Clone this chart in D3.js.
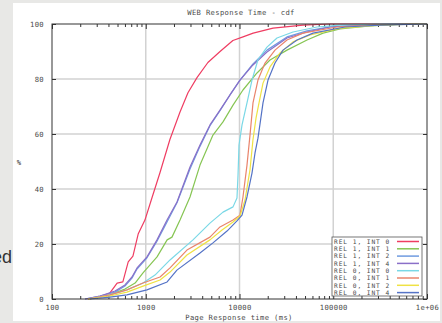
<!DOCTYPE html>
<html>
<head>
<meta charset="utf-8">
<script src="https://cdn.jsdelivr.net/npm/d3@7"></script>
<style>
  html, body { margin: 0; padding: 0; background: #e8e8e6; }
  svg { display: block; }
</style>
</head>
<body>
<div id="chart"></div>
<script>
// response time (ms) vs cumulative percent
const rel1Int0 = [[240,0],[325,0.7],[415,2.2],[495,5.8],[570,6.2],[650,13.5],[730,15.6],[830,23.6],[980,28.7],[1170,37],[1420,46],[1810,58],[2320,68],[2820,75],[3520,80.5],[4600,86],[6200,90],[8500,94],[10900,95.3],[14000,96.7],[22800,98.5],[47500,99.6],[92000,100],[1000000,100]];
const rel1Int1 = [[254,0],[415,1.5],[600,3.6],[770,5.8],[935,9.5],[1320,15.3],[1690,21.5],[1905,22.5],[2320,28.7],[2965,37.1],[3790,48.7],[5210,59.6],[6670,64.4],[8530,70.5],[10890,76],[15370,82.2],[21150,86.9],[32100,90.5],[52500,94.2],[77800,96.7],[118000,98.2],[246600,99.3],[659000,100],[1000000,100]];
const rel1Int2 = [[225,0],[325,1.1],[470,2.5],[600,4.7],[713,7.6],[807,10.9],[1031,15],[1318,21],[1686,28],[2154,35],[2965,47.3],[3790,55.5],[4844,63],[6194,68.5],[7918,74.2],[10120,79.6],[13930,85.5],[19640,90.5],[32100,95.3],[52480,97.5],[92260,99],[192800,99.6],[515000,100],[1000000,100]];
const rel1Int4 = [[225,0],[325,1.1],[470,2.9],[600,5.1],[713,8],[807,11.3],[1031,15.3],[1318,21.5],[1686,28.7],[2154,35.3],[2965,48],[3790,56],[4844,63.3],[6194,68.7],[7918,74.2],[10120,79.6],[13930,85.1],[19640,89.8],[32100,94.9],[52480,97.1],[92260,98.9],[192800,99.6],[515000,100],[1000000,100]];
const rel0Int0 = [[242,0],[415,1.5],[630,3.3],[935,5.8],[1255,8.7],[1815,14.2],[3190,21.5],[4840,27.6],[6670,31.6],[8530,33.5],[9400,36.7],[9640,45],[9880,56],[10640,63.3],[12020,71.3],[13590,79.6],[15740,87],[19640,91.6],[25120,94.9],[37220,97.1],[67100,98.9],[118000,99.6],[315000,100],[1000000,100]];
const rel0Int1 = [[242,0],[415,1.5],[630,3.3],[935,5.8],[1420,8],[1815,11.3],[2750,17.8],[4840,22.5],[6190,26.2],[8530,28.7],[10120,30.5],[10890,37.1],[12020,48.7],[12940,59.6],[13930,71.3],[15740,79.6],[18710,85.8],[23910,90.5],[32100,94.2],[47530,96.7],[109600,98.9],[246600,99.6],[659000,100],[1000000,100]];
const rel0Int2 = [[242,0],[415,1.1],[630,2.5],[935,4.7],[1420,6.9],[1815,9.8],[2750,16],[4840,21.5],[6510,25.1],[8530,28],[10120,30.2],[11450,36],[12940,47],[13930,58],[15000,65.8],[16150,71.3],[17810,78.5],[21150,84.4],[27040,89.5],[37220,93.5],[56490,96],[118000,98.5],[315000,99.6],[842000,100],[1000000,100]];
const rel0Int4 = [[254,0],[415,0.7],[630,1.5],[1030,3.3],[1690,6.2],[2150,10.5],[3790,16.7],[5210,20.4],[7360,24.7],[9400,28.4],[10640,30.5],[12020,37.1],[13590,45.8],[14640,53.1],[15740,58.5],[16540,63.6],[17810,71.3],[20140,79.6],[23910,85.8],[29100,90.5],[41040,94.2],[60800,96.7],[133400,98.9],[315000,99.6],[1000000,100]];

const seriesNames = ["REL 1, INT 0", "REL 1, INT 1", "REL 1, INT 2", "REL 1, INT 4",
                     "REL 0, INT 0", "REL 0, INT 1", "REL 0, INT 2", "REL 0, INT 4"];
const seriesData = [rel1Int0, rel1Int1, rel1Int2, rel1Int4, rel0Int0, rel0Int1, rel0Int2, rel0Int4];
const seriesColors = ["#ef3d62", "#86c553", "#6f9be0", "#8a6fc8", "#7ad8e6", "#e9846c", "#efe244", "#5473c6"];

const xMajorTicks = [100, 1000, 10000, 100000, 1000000];
const xTickLabels = ["100", "1000", "10000", "100000", "1e+06"];
const yTicks = [0, 20, 40, 60, 80, 100];

const W = 442, H = 323;
const margin = { top: 24, right: 15, bottom: 24, left: 52 };
const mono = "'DejaVu Sans Mono', 'Liberation Mono', monospace";
const textCol = "#4a4a4a";
const fs = 7.2, ls = 0.35;

const svg = d3.select("#chart").append("svg")
  .attr("width", W).attr("height", H);

// slide background + white panel
svg.append("rect").attr("width", W).attr("height", H).attr("fill", "#e8e8e6");
svg.append("rect").attr("x", 13).attr("y", 3).attr("width", 427).attr("height", 318).attr("fill", "#ffffff");
svg.append("text").attr("x", 12).attr("y", 263).attr("text-anchor", "end")
  .attr("font-family", "'Liberation Sans', Arial, sans-serif").attr("font-size", 18)
  .attr("fill", "#333").text("ed");

const x = d3.scaleLog().domain([100, 1000000]).range([margin.left, W - margin.right]);
const y = d3.scaleLinear().domain([0, 100]).range([H - margin.bottom, margin.top]);
const [x0, x1] = x.range();
const [y0, y1] = y.range();

// grid
const grid = svg.append("g").attr("stroke", "#d2d2d2").attr("stroke-width", 1.5);
grid.selectAll(".gx").data(xMajorTicks.slice(1, -1)).join("line")
  .attr("x1", d => x(d)).attr("x2", d => x(d)).attr("y1", y0).attr("y2", y1);
grid.selectAll(".gy").data(yTicks.slice(1, -1)).join("line")
  .attr("y1", d => y(d)).attr("y2", d => y(d)).attr("x1", x0).attr("x2", x1);

// minor x ticks 2..9 per decade
const xMinor = [];
for (let dec = 100; dec < 1000000; dec *= 10)
  for (let k = 2; k <= 9; k++) xMinor.push(dec * k);

function styleAxis(g) {
  g.select(".domain").remove();
  g.selectAll("line").attr("stroke", "#333");
  g.selectAll("text").attr("font-family", mono).attr("font-size", fs)
    .attr("letter-spacing", ls).attr("fill", textCol);
}

// bottom axis: labels + inward ticks
svg.append("g").attr("transform", `translate(0,${y0})`)
  .call(d3.axisBottom(x).tickValues(xMajorTicks).tickFormat((d, i) => xTickLabels[i]).tickSize(-5).tickPadding(6))
  .call(styleAxis);
svg.append("g").attr("transform", `translate(0,${y0})`)
  .call(d3.axisBottom(x).tickValues(xMinor).tickFormat("").tickSize(-3))
  .call(styleAxis);
// top axis ticks
svg.append("g").attr("transform", `translate(0,${y1})`)
  .call(d3.axisTop(x).tickValues(xMajorTicks).tickFormat("").tickSize(-5))
  .call(styleAxis);
svg.append("g").attr("transform", `translate(0,${y1})`)
  .call(d3.axisTop(x).tickValues(xMinor).tickFormat("").tickSize(-3))
  .call(styleAxis);
// left / right y ticks
svg.append("g").attr("transform", `translate(${x0},0)`)
  .call(d3.axisLeft(y).tickValues(yTicks).tickSize(-4).tickPadding(8))
  .call(styleAxis);
svg.append("g").attr("transform", `translate(${x1},0)`)
  .call(d3.axisRight(y).tickValues(yTicks).tickFormat("").tickSize(-4))
  .call(styleAxis);

// curves
const line = d3.line().x(d => x(d[0])).y(d => y(d[1]));
svg.append("g").selectAll("path").data(seriesData).join("path")
  .attr("fill", "none")
  .attr("stroke", (d, i) => seriesColors[i])
  .attr("stroke-width", 1.2)
  .attr("stroke-linejoin", "round")
  .attr("d", line);

// frame
svg.append("rect").attr("x", x0).attr("y", y1).attr("width", x1 - x0).attr("height", y0 - y1)
  .attr("fill", "none").attr("stroke", "#333").attr("stroke-width", 1);

// titles
const label = (tx, ty, t) => svg.append("text").attr("x", tx).attr("y", ty).attr("text-anchor", "middle")
  .attr("font-family", mono).attr("font-size", fs).attr("letter-spacing", ls).attr("fill", textCol).text(t);
label(241, 15, "WEB Response Time - cdf");
label(239, 320, "Page Response time (ms)");
label(19, 165, "%");

// legend
const lg = svg.append("g").attr("transform", "translate(332,237)");
lg.append("rect").attr("width", 90).attr("height", 59)
  .attr("fill", "#fff").attr("stroke", "#555").attr("stroke-width", 0.8);
const rows = lg.selectAll("g").data(seriesNames).join("g")
  .attr("transform", (d, i) => `translate(0,${4.5 + i * 7.3})`);
rows.append("text").attr("x", 2).attr("y", 2.2)
  .attr("font-family", mono).attr("font-size", 6.2).attr("letter-spacing", 0.95).attr("fill", textCol)
  .text(d => d);
rows.append("line").attr("x1", 65).attr("x2", 87).attr("y1", 0).attr("y2", 0)
  .attr("stroke", (d, i) => seriesColors[i]).attr("stroke-width", 1.5);
</script>
</body>
</html>
